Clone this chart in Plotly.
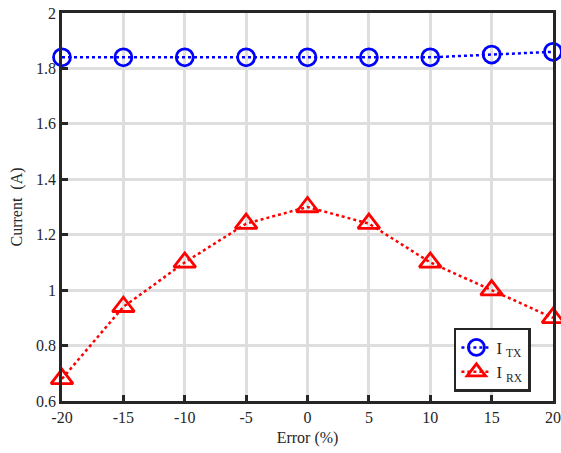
import plotly.graph_objects as go

error_pct = [-20, -15, -10, -5, 0, 5, 10, 15, 20]
i_tx = [1.84, 1.84, 1.84, 1.84, 1.84, 1.84, 1.84, 1.85, 1.86]
i_rx = [0.68, 0.94, 1.10, 1.24, 1.30, 1.24, 1.10, 1.00, 0.90]
x_ticks = [-20, -15, -10, -5, 0, 5, 10, 15, 20]
y_ticks = [0.6, 0.8, 1.0, 1.2, 1.4, 1.6, 1.8, 2.0]
y_tick_labels = ["0.6", "0.8", "1", "1.2", "1.4", "1.6", "1.8", "2"]

FONT = "Liberation Serif, DejaVu Serif, serif"
AX = "#262626"

fig = go.Figure()
fig.add_trace(go.Scatter(
    x=error_pct, y=i_tx, mode="lines+markers", name="I <sub>TX</sub>",
    line=dict(color="#0000ff", width=2.5, dash="dot"),
    marker=dict(symbol="circle-open", size=17, color="#0000ff", line=dict(width=2.8, color="#0000ff")),
    cliponaxis=False,
))
fig.add_trace(go.Scatter(
    x=error_pct, y=i_rx, mode="lines+markers", name="I <sub>RX</sub>",
    line=dict(color="#ff0000", width=2.5, dash="dot"),
    marker=dict(symbol="triangle-up-open", size=19, color="#ff0000", line=dict(width=2.8, color="#ff0000")),
    cliponaxis=False,
))

fig.update_layout(
    width=561, height=453,
    margin=dict(l=62, r=8, t=13, b=52),
    paper_bgcolor="white", plot_bgcolor="white",
    font=dict(family=FONT, size=16, color=AX),
    showlegend=True,
    legend=dict(
        x=0.955, y=0.024, xanchor="right", yanchor="bottom",
        bgcolor="white", bordercolor=AX, borderwidth=2.5,
        font=dict(family=FONT, size=16.5, color=AX),
        tracegroupgap=0, itemwidth=30,
    ),
    xaxis=dict(
        range=[-20, 20], tickvals=x_ticks, ticktext=[str(v) for v in x_ticks],
        showgrid=True, gridcolor="#dedede", gridwidth=2.5,
        showline=True, linecolor=AX, linewidth=2.5, mirror=True,
        ticks="inside", ticklen=6, tickwidth=2.5, tickcolor=AX,
        zeroline=False, automargin=False,
        tickfont=dict(family=FONT, size=16, color=AX),
        title=dict(text="Error (%)", font=dict(family=FONT, size=16, color=AX), standoff=7),
    ),
    yaxis=dict(
        range=[0.6, 2.0], tickvals=y_ticks, ticktext=y_tick_labels,
        showgrid=True, gridcolor="#dedede", gridwidth=2.5,
        showline=True, linecolor=AX, linewidth=2.5, mirror=True,
        ticks="inside", ticklen=6, tickwidth=2.5, tickcolor=AX,
        zeroline=False, automargin=False,
        tickfont=dict(family=FONT, size=16, color=AX),
        title=dict(text="Current  (A)", font=dict(family=FONT, size=16, color=AX), standoff=10),
    ),
)

# remove the page's default 8px body margin so the figure fills the window
fig.write_html(
    "out.html",
    config={"displayModeBar": False},
    post_script="document.body.style.margin='0';",
)
